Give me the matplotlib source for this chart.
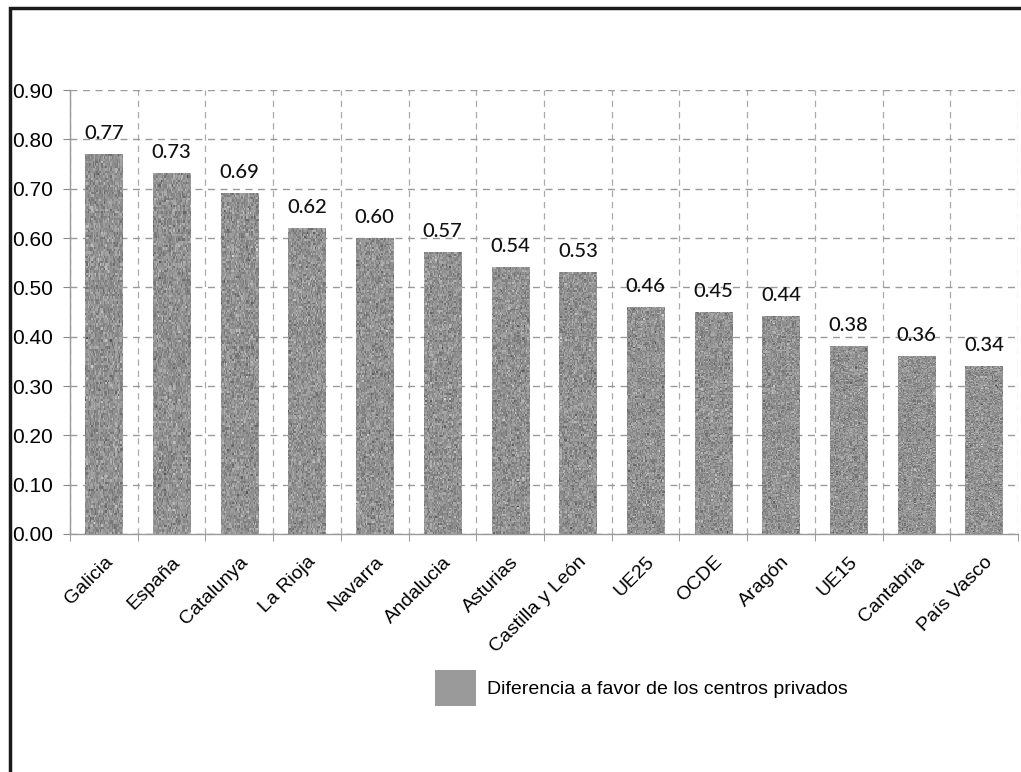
import numpy as np
import matplotlib
matplotlib.use('Agg')
import matplotlib.pyplot as plt
from matplotlib.patches import Rectangle, Patch

regions = ['Galicia', 'España', 'Catalunya', 'La Rioja', 'Navarra', 'Andalucia',
           'Asturias', 'Castilla y León', 'UE25', 'OCDE', 'Aragón', 'UE15',
           'Cantabria', 'País Vasco']
diff_values = [0.77, 0.73, 0.69, 0.62, 0.60, 0.57, 0.54, 0.53, 0.46, 0.45,
               0.44, 0.38, 0.36, 0.34]
yticks = [0.0, 0.1, 0.2, 0.3, 0.4, 0.5, 0.6, 0.7, 0.8, 0.9]
legend_label = 'Diferencia a favor de los centros privados'

plt.rcParams['font.family'] = ['Liberation Sans', 'DejaVu Sans']

fig = plt.figure(figsize=(10.21, 7.72), dpi=100)
ax = fig.add_axes([0.0686, 0.3083, 0.9284, 0.5751])

x = np.arange(len(regions))
bars = ax.bar(x, diff_values, width=0.55, color='#939393', zorder=2)

# grainy fill inside each bar, like a scanned print
rng = np.random.default_rng(7)
for b in bars:
    grain = rng.normal(0.57, 0.07, size=(160, 30))
    ax.imshow(grain, cmap='gray', vmin=0, vmax=1, aspect='auto',
              extent=(b.get_x(), b.get_x() + b.get_width(), 0, b.get_height()),
              zorder=3, interpolation='nearest')

for xi, v in zip(x, diff_values):
    ax.annotate(f'{v:.2f}', (xi, v), xytext=(0, 9), textcoords='offset points',
                ha='center', va='bottom', fontsize=14.5, family='Lato',
                fontweight='medium', color='#111111', zorder=4)

ax.set_xlim(-0.5, len(regions) - 0.5)
ax.set_ylim(0, 0.9)
ax.set_yticks(yticks)
ax.set_yticklabels([f'{t:.2f}' for t in yticks], fontsize=15)

ax.set_xticks(x)
ax.set_xticklabels(regions, rotation=45, ha='right', rotation_mode='anchor',
                   fontsize=14)
ax.tick_params(axis='x', length=0, pad=14)
ax.set_xticks(np.arange(len(regions) + 1) - 0.5, minor=True)
ax.tick_params(axis='x', which='minor', length=5, color='#888888')
ax.tick_params(axis='y', length=5, color='#888888', pad=7)

ax.grid(axis='y', which='major', linestyle=(0, (5, 4)), color='#9a9a9a', lw=1, zorder=1)
ax.grid(axis='x', which='minor', linestyle=(0, (5, 4)), color='#aaaaaa', lw=0.9, zorder=1)
ax.set_axisbelow(True)

for side in ['top', 'right']:
    ax.spines[side].set_visible(False)
for side in ['left', 'bottom']:
    ax.spines[side].set_color('#999999')
    ax.spines[side].set_linewidth(1)

handle = Patch(facecolor='#9a9a9a', edgecolor='none')
fig.legend([handle], [legend_label], loc='center left',
           bbox_to_anchor=(0.426, 0.109), frameon=False, fontsize=14,
           handlelength=2.1, handleheight=2.5, handletextpad=0.6,
           borderpad=0, borderaxespad=0)

# outer frame: only top and left edges show
fig.add_artist(Rectangle((0.0095, -0.1), 1.2, 1.0895, transform=fig.transFigure,
                         fill=False, edgecolor='#1a1a1a', lw=2.5))

fig.savefig('out.png', dpi=100)
